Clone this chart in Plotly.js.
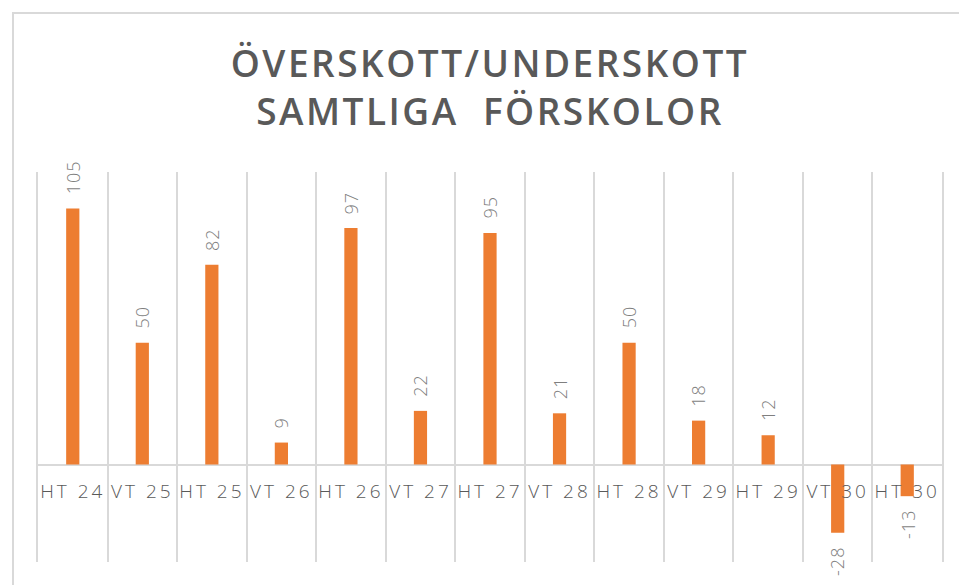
<!DOCTYPE html>
<html>
<head>
<meta charset="utf-8">
<script src="https://cdn.plot.ly/plotly-3.0.1.min.js"></script>
<style>
  html, body { margin: 0; padding: 0; background: #fff; }
  #wrap { position: relative; width: 959px; height: 585px; }
  #chart { position: absolute; left: 0; top: 0; width: 959px; height: 585px; }
  #frame { position: absolute; left: 12px; top: 12px; width: 960px; height: 600px;
           border-top: 2px solid #d9d9d9; border-left: 2px solid #d9d9d9; pointer-events: none; }
  .xtick text { letter-spacing: 3px; }
  .gtitle { letter-spacing: 2.5px; }
  .annotation-text { letter-spacing: 1px; }
</style>
</head>
<body>
<div id="wrap">
  <div id="chart"></div>
  <div id="frame"></div>
</div>
<script>
const categories = ["HT 24", "VT 25", "HT 25", "VT 26", "HT 26", "VT 27", "HT 27", "VT 28", "HT 28", "VT 29", "HT 29", "VT 30", "HT 30"];
const values = [105, 50, 82, 9, 97, 22, 95, 21, 50, 18, 12, -28, -13];
const labels = values.map(v => String(v));
const titleText = "ÖVERSKOTT/UNDERSKOTT<br>SAMTLIGA  FÖRSKOLOR";
const yRange = [-40, 120];

const trace = {
  type: "bar",
  x: categories,
  y: values,
  cliponaxis: false,
  marker: { color: "#ED7D31" },
  hoverinfo: "none"
};

const annotations = categories.map((c, i) => ({
  x: c,
  y: values[i],
  xref: "x",
  yref: "y",
  text: labels[i],
  showarrow: false,
  textangle: -90,
  xanchor: "center",
  yanchor: values[i] >= 0 ? "bottom" : "top",
  yshift: values[i] >= 0 ? 12 : -12,
  font: { family: "Open Sans, sans-serif", size: 18, color: "#7f7f7f", weight: 300 }
}));

const layout = {
  width: 959,
  height: 585,
  margin: { l: 38, r: 17, t: 172, b: 23 },
  paper_bgcolor: "rgba(0,0,0,0)",
  plot_bgcolor: "rgba(0,0,0,0)",
  bargap: 0.81,
  showlegend: false,
  annotations: annotations,
  title: {
    text: titleText,
    x: 0.5, xref: "paper", xanchor: "center",
    y: 0.868, yref: "container", yanchor: "middle",
    font: { family: "Open Sans, sans-serif", size: 37, color: "#595959", weight: 600 }
  },
  xaxis: {
    type: "category",
    anchor: "free",
    position: (0 - yRange[0]) / (yRange[1] - yRange[0]),
    tickson: "boundaries",
    showgrid: true,
    gridcolor: "#d9d9d9",
    gridwidth: 2,
    ticks: "",
    showline: false,
    zeroline: false,
    tickangle: 0,
    ticklabelstandoff: 13,
    tickfont: { family: "Open Sans, sans-serif", size: 19, color: "#595959", weight: 300 }
  },
  yaxis: {
    range: yRange,
    showgrid: false,
    showticklabels: false,
    ticks: "",
    zeroline: true,
    zerolinecolor: "#d9d9d9",
    zerolinewidth: 2,
    showline: true,
    mirror: true,
    linecolor: "#d9d9d9",
    linewidth: 2
  }
};

Plotly.newPlot("chart", [trace], layout, { staticPlot: true, displayModeBar: false });
</script>
</body>
</html>
